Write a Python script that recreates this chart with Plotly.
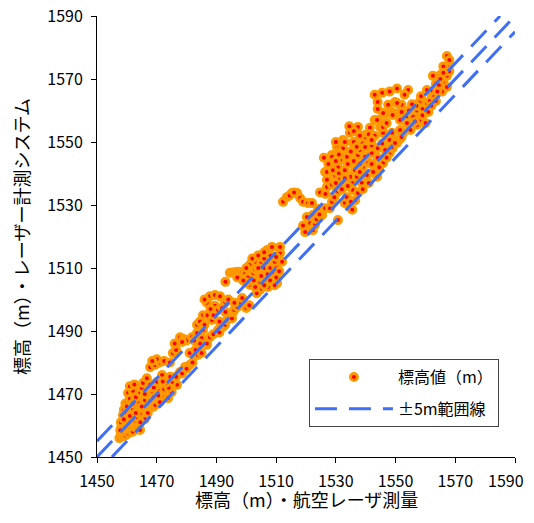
import plotly.graph_objects as go

# ---- data: (航空レーザ測量, レーザー計測システム) elevations in m ----
seg_low = [
    (1457.5,1456),(1458,1457),(1458.5,1456.5),(1459,1457.5),(1459.5,1456.8),(1460,1458),(1460.5,1457.5),
    (1461,1458.5),(1461.5,1459),(1462,1458),(1462.5,1459.5),(1463,1460),(1463.5,1459),(1464,1460.5),
    (1464.4,1458.6),(1458,1459),(1459,1460),(1460,1461),(1461,1461.5),(1462,1462),(1463,1461.5),
    (1458.7,1463.3),(1459,1465),(1459.5,1467),(1460.4,1470.3),(1461,1468.5),(1462,1471),(1462.7,1468),
    (1461,1466),(1460,1464),(1462,1465),(1463.7,1462.4),(1465.4,1462.4),(1464.5,1464),(1466,1465),
    (1467,1464),(1468.8,1465.9),(1467.5,1467.5),(1467,1469.7),(1466,1468),(1464,1467),(1463,1469),
    (1464.5,1470.5),(1465,1472),(1467.8,1472.9),(1465.4,1473.5),(1466.7,1475),(1461,1472.5),(1462.5,1473),
    (1470,1468),(1470,1471),(1471,1471),(1472,1469),(1473.8,1468.7),(1475,1470.6),(1476.8,1472.9),
    (1475,1473.8),(1473.8,1475),(1471.8,1476),(1470,1473.8),(1469,1472),(1468.5,1470),(1469.5,1466.5),
    (1471,1467.5),(1472.5,1471.5),(1474,1472),(1473,1473.5),
    (1458,1461),(1459,1462),(1460,1466),(1461,1463),(1462,1467),(1463,1464),(1465,1466),(1466,1470),
    (1468,1468),(1466,1462),(1457.8,1458.5),(1464.5,1461),(1469,1469),(1470.5,1469.5),(1472,1474),
    (1474.5,1475.5),
]
seg_1480 = [
    (1467.8,1478.5),(1469.4,1479.2),(1471,1480),(1472.5,1480.5),(1474.4,1480),(1475.4,1483),(1476.5,1484),
    (1470,1481),(1468.5,1480.5),(1477.8,1477),(1479.5,1478.6),(1481,1479.2),(1482,1480),(1483.8,1482.4),
    (1485,1483),(1478.5,1476.5),(1480,1478),(1476.5,1475.5),(1486.8,1485.6),(1485,1487.8),
    (1476,1486),(1477.8,1488),(1479,1487.5),(1480,1487),(1481.8,1488),(1483.5,1489.4),(1484.5,1486),
    (1486.8,1486),(1487.8,1488),(1485.5,1490.3),(1483.5,1492),(1478.5,1486.5),(1482.5,1487),
    (1485.5,1495),(1486.8,1499),(1489.5,1498),(1492.9,1499),(1490.5,1496.7),(1487.8,1501),(1489.5,1501.4),
    (1491.2,1501),(1486,1500),(1491.9,1497.3),(1487,1495),(1488.5,1493.5),(1484.5,1493),(1488,1497),
    (1493,1505.6),(1490.5,1490.3),(1492.2,1491.3),(1492.9,1492),(1493.5,1493.5),(1494.5,1494.5),
    (1495.2,1494),(1495.6,1496),(1496,1496.7),(1497,1497.6),(1498,1499),(1498.6,1500.5),(1500,1497.3),
    (1501,1498.2),(1489,1489),(1491,1489.5),
    (1481,1483),(1483,1484),(1486,1492),(1489,1495),(1491,1493),(1493,1496),(1494,1500),(1496,1499),
]
seg_1505 = [
    (1494.5,1508.5),(1495.5,1508.6),(1496.5,1508.7),(1497.5,1508.8),(1498.5,1508.5),(1499.6,1508.4),
    (1501.2,1511),(1503,1512),(1505,1511.6),(1507,1511),(1502.3,1508.4),(1504,1506.8),(1506.3,1506.8),
    (1509,1508.4),(1507.3,1504),(1510.3,1505.2),(1504.6,1503),(1501.2,1504.6),(1508,1514),(1507,1515.7),
    (1508.6,1516.7),(1511.3,1514.8),(1511.3,1516.7),(1503,1509.5),(1505,1509),(1506,1510),(1508,1510),
    (1510,1510.5),(1509.5,1512),(1504,1505),(1506,1504.5),(1502.5,1506),(1500.5,1507),(1510,1507),
    (1511,1509),(1508,1506),(1509.5,1504.5),(1503.5,1502),
    (1500,1510),(1502,1513),(1504,1514),(1506,1513),(1504,1510),(1507,1508),(1505,1507.5),(1503,1504),
    (1500,1505.5),(1506,1515),(1510,1513.5),(1512,1512),(1497,1507),(1499,1506),
]
seg_1525 = [
    (1512.3,1531),(1513.6,1532.5),(1515.3,1533.8),(1517,1533.8),(1518,1532.2),(1519,1531),(1520.7,1530.6),
    (1522,1530.6),(1514.5,1533),(1516,1534),(1524,1528.7),(1526.4,1529),(1522.3,1526.8),(1525.4,1526.8),
    (1520.3,1526.2),(1521.4,1524.3),(1523,1523.7),(1520.7,1522),(1522.3,1522),(1519.7,1521.4),(1528,1529),
    (1530.7,1525.2),(1523.5,1525.5),(1519,1523.5),(1524.5,1527),(1524.7,1534),(1527,1535.7),(1528.7,1536.4),
    (1530.4,1534),(1531.4,1536.4),(1528.7,1531),(1533,1530.6),(1526.5,1533.5),(1529.5,1532.5),
    (1526.4,1540.5),(1528.7,1543.3),(1530.7,1542),(1532.4,1539.5),(1529.7,1539.5),(1527,1538),(1532.4,1537.3),
]
seg_1540 = [
    (1537.4,1554.8),(1534.7,1552.9),(1539.8,1552.2),(1540.8,1550.6),(1532.4,1550.6),(1530.4,1548.4),
    (1532.4,1548),(1528.7,1545.9),(1533.7,1545.9),(1531.4,1544.3),(1527,1540.5),(1529,1541),(1537.4,1545.9),
    (1540.8,1543.7),(1539,1542),(1540.4,1539.5),(1538.7,1537),(1535.7,1534.8),(1537.4,1533.8),(1533.7,1532.5),
    (1535.4,1537.3),(1536.4,1541),(1542,1546.5),(1544.8,1554.8),(1545.5,1556),(1534.5,1529.5),(1535.5,1528.5),
    (1541.4,1554.5),(1539.8,1551.6),(1545.8,1552.9),(1528.7,1545.3),(1530.7,1546.8),(1535.7,1549.7),
    (1538,1547.5),(1539.8,1545.3),(1541.4,1548.4),(1533.7,1545.3),(1526,1545),(1534,1543),(1536,1544),
    (1538,1543),(1535,1539),(1537,1539),(1534,1536),(1531,1540),(1533,1541),(1536,1550),(1538,1552),
    (1530,1544),(1542,1543),(1543,1541),(1541,1537),(1539,1535),(1536.5,1531.5),
    (1543.8,1539),(1545.8,1543.3),(1548,1546.5),(1550.5,1549.7),(1552.5,1552.9),(1554.8,1556),
    (1542.5,1540.5),(1544.5,1542),(1547,1545),(1549,1548),(1551.5,1551),(1546.5,1547.5),(1549.5,1550.5),
    (1531,1538),(1533,1538.5),(1535,1547),(1537,1548.5),(1533,1550),(1531,1546),(1536,1553.5),
    (1539,1549.5),(1541,1552.5),(1543,1552),(1542,1549),(1544,1548),(1544,1545),(1545.5,1549.5),
    (1535,1531),(1538,1540.5),(1530,1550),(1534.5,1555),(1527.5,1543),(1530,1537),(1532,1535),
]
seg_1555 = [
    (1543,1565),(1545.5,1565.6),(1548,1566),(1550.5,1567),(1554.2,1566.5),(1544,1562.7),(1547.5,1561.8),
    (1549.8,1562.7),(1552,1561.8),(1553,1565),(1546.5,1559),(1543,1557),(1548.8,1559.5),(1551.5,1559.5),
    (1553.8,1557.6),(1550.5,1562.4),(1545.8,1559.2),(1549,1558.6),(1552,1559.5),(1551.5,1557),(1543.8,1557),
    (1545.8,1554.8),(1542,1550.6),(1539.8,1548.4),(1548.8,1548.4),(1548,1550.6),(1548.8,1552.9),
    (1551.5,1553.8),(1553.8,1556),(1555,1553.8),(1557.2,1555.4),(1560,1556),(1552,1551.6),(1549.8,1549.7),
    (1547,1556),(1544,1560.5),(1556,1558),(1558,1557),
]
seg_top = [
    (1567.2,1577.3),(1567.2,1574),(1565,1571.3),(1562.5,1571),(1567.2,1571),(1566,1569),(1564.2,1567.2),
    (1560.5,1566.5),(1565.6,1566),(1567.2,1567.5),(1558,1562.7),(1560.5,1561),(1557.2,1560),(1562.2,1564.3),
    (1555.9,1558),(1566,1574),(1565,1570),(1562.5,1566),(1560.5,1562.4),(1563.5,1568.5),(1559,1560.5),
    (1561.5,1563),(1557,1561.5),(1555.5,1562),(1554.5,1560),(1563,1564.5),(1564.5,1568),(1568,1572.5),
    (1558.5,1564.5),(1556.5,1556.5),(1559,1558.5),(1561,1559.5),(1562,1561.5),(1563.5,1563),(1566,1572),
    (1564,1566),(1568,1576),
]
segments = [seg_low, seg_1480, seg_1505, seg_1525, seg_1540, seg_1555, seg_top]

band_offsets = [5, 0, -5]          # ±5 m range lines and the 1:1 line
axis_min, axis_max = 1450, 1590
tick_vals = list(range(1450, 1591, 20))
tick_text = [str(v) for v in tick_vals]
x_title = "標高（m）・航空レーザ測量"
y_title = "標高（m）・レーザー計測システム"

x_laser = [p[0] for s in segments for p in s]
y_system = [p[1] for s in segments for p in s]

FONT = "Noto Sans CJK JP, Noto Sans, sans-serif"

fig = go.Figure()
fig.add_trace(go.Scatter(
    x=x_laser, y=y_system, mode="markers", name="標高値（m）",
    marker=dict(size=7, color="#FF0000", line=dict(color="#FF9900", width=3)),
))
for i, off in enumerate(band_offsets):
    x0 = max(axis_min, axis_min - off)
    x1 = min(axis_max, axis_max - off)
    fig.add_trace(go.Scatter(
        x=[x0, x1], y=[x0 + off, x1 + off], mode="lines", name="±5m範囲線",
        line=dict(color="#3F6FF5", width=3, dash="22px,12px"),
        showlegend=(i == 0), legendgroup="band",
    ))

axis_common = dict(
    range=[axis_min, axis_max], showgrid=False, zeroline=False,
    showline=True, linecolor="black", linewidth=1, ticks="outside", ticklen=5,
    tickcolor="black", tickfont=dict(family=FONT, size=16, color="black"),
    title_font=dict(family=FONT, size=18, color="black"), automargin=False,
    ticklabeloverflow="allow",
)
# last x label is drawn as an annotation nudged inward so it stays inside the page
x_tick_text = tick_text[:-1] + [""]
fig.update_xaxes(tickvals=tick_vals, ticktext=x_tick_text, ticklabelstandoff=5, **axis_common)
fig.update_yaxes(title_text=y_title, title_standoff=16,
                 tickvals=tick_vals, ticktext=tick_text, ticklabelstandoff=5, **axis_common)
fig.add_annotation(x=tick_vals[-1], xref="x", y=0, yref="paper", text=tick_text[-1],
                   showarrow=False, xanchor="center", yanchor="middle",
                   xshift=-9, yshift=-23, font=dict(family=FONT, size=16, color="black"))
# x-axis title placed below the tick labels
fig.add_annotation(x=0.5, xref="paper", y=0, yref="paper", text=x_title,
                   showarrow=False, xanchor="center", yanchor="bottom",
                   yshift=-57, font=dict(family=FONT, size=18, color="black"))

# page has an 8px body margin: offset the figure and keep the page free of scrollbars
fig.update_layout(
    width=526, height=507,
    margin=dict(l=89, r=19, t=8, b=58),
    paper_bgcolor="white", plot_bgcolor="white",
    showlegend=True,
    legend=dict(x=0.507, y=0.222, xanchor="left", yanchor="top",
                bgcolor="white", bordercolor="#444444", borderwidth=1,
                font=dict(family=FONT, size=16, color="black"),
                itemwidth=78, tracegroupgap=8),
)
fig.write_html("out.html")
